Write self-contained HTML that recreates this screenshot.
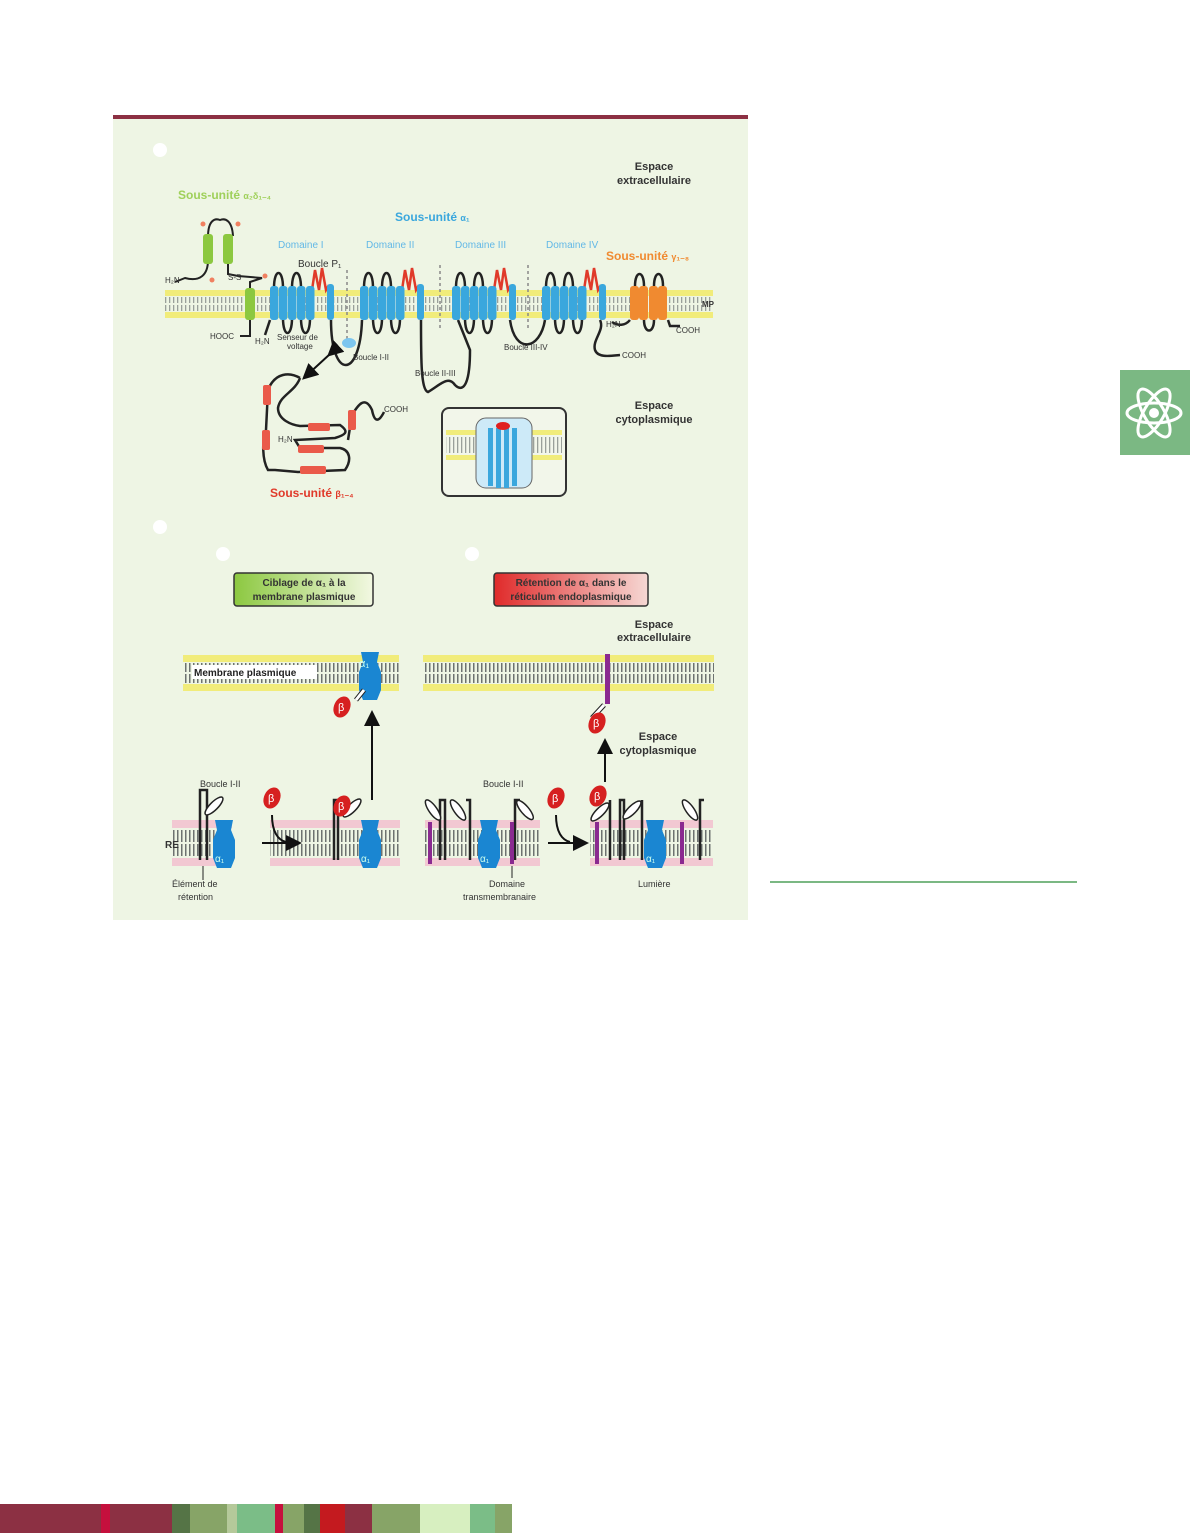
<!DOCTYPE html>
<html><head><meta charset="utf-8"><style>
html,body{margin:0;padding:0;background:#fff;}
body{width:1190px;height:1533px;position:relative;overflow:hidden;font-family:"Liberation Sans",sans-serif;}
.strip{position:absolute;top:1504px;height:29px;}
</style></head><body>
<svg width="1190" height="1533" style="position:absolute;left:0;top:0" xmlns="http://www.w3.org/2000/svg" font-family="Liberation Sans, sans-serif">
<defs>
<pattern id="vl" x="0" y="0" width="4" height="4" patternUnits="userSpaceOnUse"><rect x="1" y="0" width="1.3" height="4" fill="#9aa09a"/></pattern>
<pattern id="vd" x="0" y="0" width="4" height="4" patternUnits="userSpaceOnUse"><rect x="1" y="0" width="1.5" height="4" fill="#6d7270"/></pattern>
<g id="dom">
<g fill="none" stroke="#222" stroke-width="2.5">
<path d="M4 288 C4 268 13 268 13 288"/><path d="M22 288 C22 268 31 268 31 288"/>
<path d="M13 318 C13 338 22 338 22 318"/><path d="M31 318 C31 338 40 338 40 318"/>
</g>
<path d="M42 290 L45 270 L49 290 L52 268 L56 290 L59 285" fill="none" stroke="#e03a2a" stroke-width="2.5"/>
<g fill="#3aa7dd">
<rect x="0" y="286" width="8.5" height="34" rx="3"/><rect x="9" y="286" width="8.5" height="34" rx="3"/>
<rect x="18" y="286" width="8.5" height="34" rx="3"/><rect x="27" y="286" width="8.5" height="34" rx="3"/>
<rect x="36" y="286" width="8.5" height="34" rx="3"/><rect x="57" y="284" width="7" height="36" rx="3"/>
</g>
</g>
<g id="alpha"><path d="M-9 0 h18 l-2 10 l4 10 v18 l-4 10 h-14 l-4 -10 v-18 l4 -10 z" fill="#1a86d2"/></g>
<g id="beta"><ellipse cx="0" cy="0" rx="8" ry="11" fill="#d62020" transform="rotate(25)"/><text x="-4" y="4" font-size="11" fill="#fff">β</text></g>
<marker id="ar" markerWidth="8" markerHeight="8" refX="6" refY="4" orient="auto"><path d="M0 0 L8 4 L0 8 z" fill="#111"/></marker>
<linearGradient id="gg"><stop offset="0" stop-color="#8cc840"/><stop offset="1" stop-color="#f2f8e2"/></linearGradient>
<linearGradient id="rg"><stop offset="0" stop-color="#e02a2a"/><stop offset="1" stop-color="#f6d8d4"/></linearGradient>
</defs>

<rect x="113" y="115" width="635" height="805" fill="#eef5e4"/>
<rect x="113" y="115" width="635" height="4" fill="#8c3043"/>

<!-- icon -->
<rect x="1120" y="370" width="70" height="85" fill="#7bb883"/>
<g transform="translate(1154,413)" fill="none" stroke="#fff" stroke-width="3">
<ellipse rx="27" ry="10"/><ellipse rx="27" ry="10" transform="rotate(60)"/><ellipse rx="27" ry="10" transform="rotate(-60)"/>
<circle r="5" fill="#fff" stroke="none"/></g>
<rect x="770" y="881" width="307" height="2" fill="#7bb883"/>

<!-- panel A -->
<circle cx="160" cy="150" r="7" fill="#fff"/>
<text x="654" y="170" font-size="11" font-weight="bold" fill="#333" text-anchor="middle">Espace</text>
<text x="654" y="184" font-size="11" font-weight="bold" fill="#333" text-anchor="middle">extracellulaire</text>
<text x="178" y="199" font-size="12" font-weight="bold" fill="#9fd05a">Sous-unité <tspan font-size="9">α₂δ₁₋₄</tspan></text>
<text x="395" y="221" font-size="12" font-weight="bold" fill="#3aa7dd">Sous-unité <tspan font-size="9">α₁</tspan></text>
<g font-size="10" fill="#62b8e6"><text x="278" y="248">Domaine I</text><text x="366" y="248">Domaine II</text><text x="455" y="248">Domaine III</text><text x="546" y="248">Domaine IV</text></g>
<text x="606" y="260" font-size="12" font-weight="bold" fill="#f08a30">Sous-unité <tspan font-size="9">γ₁₋₈</tspan></text>
<text x="298" y="267" font-size="10" fill="#333">Boucle P₁</text>

<!-- membrane A -->
<rect x="165" y="290" width="548" height="6" fill="#f1ec7a"/>
<rect x="165" y="312" width="548" height="6" fill="#f1ec7a"/>
<rect x="165" y="297" width="548" height="6" fill="url(#vl)"/>
<rect x="165" y="305" width="548" height="6" fill="url(#vl)"/>
<text x="702" y="307" font-size="8" font-weight="bold" fill="#333">MP</text>
<g stroke="#888" stroke-width="1.5" stroke-dasharray="3 3"><line x1="347" y1="270" x2="347" y2="345"/><line x1="440" y1="265" x2="440" y2="330"/><line x1="528" y1="265" x2="528" y2="330"/></g>

<!-- alpha2delta -->
<g fill="none" stroke="#222" stroke-width="2">
<path d="M208 237 C208 220 215 218 220 220 C225 218 232 220 233 236"/>
<path d="M208 260 C208 275 200 282 185 278 L175 282"/>
<path d="M228 262 L228 274 L238 276 L262 278 L250 282 L250 292"/>
<path d="M250 318 L250 336 L240 336"/>
</g>
<rect x="203" y="234" width="10" height="30" rx="3" fill="#8cc840"/><rect x="223" y="234" width="10" height="30" rx="3" fill="#8cc840"/>
<rect x="245" y="288" width="10" height="32" rx="3" fill="#8cc840"/>
<g fill="#f08060"><circle cx="203" cy="224" r="2.5"/><circle cx="238" cy="224" r="2.5"/><circle cx="212" cy="280" r="2.5"/><circle cx="265" cy="276" r="2.5"/></g>
<g font-size="8" fill="#333"><text x="165" y="283">H₂N</text><text x="228" y="280">S-S</text><text x="210" y="339">HOOC</text><text x="255" y="344">H₂N</text><text x="277" y="340">Senseur de</text><text x="287" y="349">voltage</text></g>

<!-- alpha1 domains -->
<g fill="none" stroke="#222" stroke-width="2.5">
<path d="M270 320 L265 335"/>
<path d="M331 320 C331 380 360 380 362 320"/>
<path d="M421 320 C421 360 421 390 428 392 C440 385 448 375 455 385 C462 392 470 388 470 350 L458 320"/>
<path d="M510 320 C515 355 540 350 545 320"/>
<path d="M600 320 C605 330 592 340 595 350 C598 358 610 356 620 355"/>
<path d="M630 320 C625 326 618 326 612 322"/>
<path d="M668 320 L670 326 L680 326"/>
<path d="M635 286 C635 270 644 270 644 286"/><path d="M654 286 C654 270 663 270 663 286"/>
<path d="M644 320 C644 334 654 334 654 320"/>
</g>
<use href="#dom" x="270"/><use href="#dom" x="360"/><use href="#dom" x="452"/><use href="#dom" x="542"/>
<g fill="#f08a30"><rect x="630" y="286" width="9" height="34" rx="3"/><rect x="639" y="286" width="9" height="34" rx="3"/><rect x="649" y="286" width="9" height="34" rx="3"/><rect x="658" y="286" width="9" height="34" rx="3"/></g>
<ellipse cx="349" cy="343" rx="7" ry="5" fill="#7dc6ef"/>
<g font-size="8" fill="#333"><text x="353" y="360">Boucle I-II</text><text x="415" y="376">Boucle II-III</text><text x="504" y="350">Boucle III-IV</text><text x="606" y="327">H₂N</text><text x="676" y="333">COOH</text><text x="622" y="358">COOH</text></g>

<!-- beta -->
<line x1="330" y1="354" x2="305" y2="377" stroke="#111" stroke-width="2" marker-end="url(#ar)" marker-start="url(#ar)"/>
<g fill="none" stroke="#222" stroke-width="2.5">
<path d="M300 378 C290 372 275 372 268 390 L266 430 C262 440 262 460 268 470 L275 470 L298 472 L345 470 C352 460 350 450 340 448 L300 448 L295 440 L335 438 C345 435 350 432 340 425 L300 426 C292 425 278 420 278 408 C280 395 295 392 300 378"/>
<path d="M348 440 L352 415 C358 405 365 395 372 410 C375 425 380 420 384 412"/>
</g>
<g fill="#ea5a4a"><rect x="263" y="385" width="8" height="20" rx="2"/><rect x="262" y="430" width="8" height="20" rx="2"/><rect x="348" y="410" width="8" height="20" rx="2"/>
<rect x="308" y="423" width="22" height="8" rx="2"/><rect x="298" y="445" width="26" height="8" rx="2"/><rect x="300" y="466" width="26" height="8" rx="2"/></g>
<text x="278" y="442" font-size="8" fill="#333">H₂N</text><text x="384" y="412" font-size="8" fill="#333">COOH</text>
<text x="270" y="497" font-size="12" font-weight="bold" fill="#e03a2a">Sous-unité <tspan font-size="9">β₁₋₄</tspan></text>
<text x="654" y="409" font-size="11" font-weight="bold" fill="#333" text-anchor="middle">Espace</text>
<text x="654" y="423" font-size="11" font-weight="bold" fill="#333" text-anchor="middle">cytoplasmique</text>
<rect x="442" y="408" width="124" height="88" rx="7" fill="#f2f6ea" stroke="#333" stroke-width="2"/>
<rect x="446" y="430" width="116" height="5" fill="#f1ec7a"/><rect x="446" y="455" width="116" height="5" fill="#f1ec7a"/>
<rect x="446" y="437" width="116" height="16" fill="url(#vl)"/>
<rect x="476" y="418" width="56" height="70" rx="10" fill="#cdeaf8" stroke="#666"/>
<g fill="#3aa7dd"><rect x="488" y="428" width="5" height="58"/><rect x="496" y="428" width="5" height="60"/><rect x="504" y="428" width="5" height="60"/><rect x="512" y="428" width="5" height="58"/></g>
<ellipse cx="503" cy="426" rx="7" ry="4" fill="#e02020"/>

<!-- panel B -->
<circle cx="160" cy="527" r="7" fill="#fff"/>
<circle cx="223" cy="554" r="7" fill="#fff"/><circle cx="472" cy="554" r="7" fill="#fff"/>
<rect x="234" y="573" width="139" height="33" rx="3" fill="url(#gg)" stroke="#333" stroke-width="1.5"/>
<text x="304" y="586" font-size="10" font-weight="bold" fill="#333" text-anchor="middle">Ciblage de α₁ à la</text>
<text x="304" y="600" font-size="10" font-weight="bold" fill="#333" text-anchor="middle">membrane plasmique</text>
<rect x="494" y="573" width="154" height="33" rx="3" fill="url(#rg)" stroke="#333" stroke-width="1.5"/>
<text x="571" y="586" font-size="10" font-weight="bold" fill="#333" text-anchor="middle">Rétention de α₁ dans le</text>
<text x="571" y="600" font-size="10" font-weight="bold" fill="#333" text-anchor="middle">réticulum endoplasmique</text>
<text x="654" y="628" font-size="11" font-weight="bold" fill="#333" text-anchor="middle">Espace</text>
<text x="654" y="641" font-size="11" font-weight="bold" fill="#333" text-anchor="middle">extracellulaire</text>

<!-- plasma membranes -->
<g>
<rect x="183" y="655" width="216" height="7" fill="#f1ec7a"/><rect x="183" y="684" width="216" height="7" fill="#f1ec7a"/>
<rect x="183" y="663" width="216" height="9" fill="url(#vd)"/><rect x="183" y="674" width="216" height="9" fill="url(#vd)"/>
<rect x="423" y="655" width="291" height="7" fill="#f1ec7a"/><rect x="423" y="684" width="291" height="7" fill="#f1ec7a"/>
<rect x="423" y="663" width="291" height="9" fill="url(#vd)"/><rect x="423" y="674" width="291" height="9" fill="url(#vd)"/>
</g>
<rect x="192" y="665" width="125" height="14" fill="#fff"/>
<text x="194" y="676" font-size="10" font-weight="bold" fill="#222">Membrane plasmique</text>
<use href="#alpha" x="370" y="652"/>
<text x="359" y="667" font-size="11" fill="#cfe">α₁</text>
<path d="M356 700 L364 690" stroke="#222" stroke-width="5"/><path d="M356 700 L364 690" stroke="#fff" stroke-width="3"/>
<use href="#beta" x="342" y="707"/>
<line x1="372" y1="800" x2="372" y2="714" stroke="#111" stroke-width="2" marker-end="url(#ar)"/>
<rect x="605" y="654" width="5" height="50" fill="#8a2a90"/>
<path d="M604 705 L592 718" stroke="#222" stroke-width="5"/><path d="M604 705 L592 718" stroke="#fff" stroke-width="3"/>
<use href="#beta" x="597" y="723"/>
<line x1="605" y1="782" x2="605" y2="742" stroke="#111" stroke-width="2" marker-end="url(#ar)"/>
<text x="658" y="740" font-size="11" font-weight="bold" fill="#333" text-anchor="middle">Espace</text>
<text x="658" y="754" font-size="11" font-weight="bold" fill="#333" text-anchor="middle">cytoplasmique</text>

<!-- ER membranes -->
<g>
<rect x="172" y="820" width="60" height="8" fill="#f2c8d2"/><rect x="172" y="858" width="60" height="8" fill="#f2c8d2"/>
<rect x="172" y="830" width="60" height="12" fill="url(#vd)"/><rect x="172" y="844" width="60" height="12" fill="url(#vd)"/>
<rect x="270" y="820" width="130" height="8" fill="#f2c8d2"/><rect x="270" y="858" width="130" height="8" fill="#f2c8d2"/>
<rect x="270" y="830" width="130" height="12" fill="url(#vd)"/><rect x="270" y="844" width="130" height="12" fill="url(#vd)"/>
<rect x="425" y="820" width="115" height="8" fill="#f2c8d2"/><rect x="425" y="858" width="115" height="8" fill="#f2c8d2"/>
<rect x="425" y="830" width="115" height="12" fill="url(#vd)"/><rect x="425" y="844" width="115" height="12" fill="url(#vd)"/>
<rect x="590" y="820" width="123" height="8" fill="#f2c8d2"/><rect x="590" y="858" width="123" height="8" fill="#f2c8d2"/>
<rect x="590" y="830" width="123" height="12" fill="url(#vd)"/><rect x="590" y="844" width="123" height="12" fill="url(#vd)"/>
</g>
<text x="165" y="848" font-size="10" font-weight="bold" fill="#333">RE</text>
<g stroke="#222" stroke-width="2.5" fill="none">
<path d="M200 860 L200 790 L207 790 L207 860"/>
<path d="M334 860 L334 800 L338 800 L338 860"/>
<path d="M440 860 L440 800 L445 800 L445 860 M470 860 L470 800 L466 800"/>
<path d="M515 860 L515 800 L520 800"/>
<path d="M610 860 L610 800 M620 860 L620 800 L624 800 L624 860 M700 860 L700 800 L704 800"/>
<path d="M642 860 L642 800"/>
</g>
<g fill="#fff" stroke="#222" stroke-width="1.5">
<ellipse cx="214" cy="806" rx="4" ry="12" transform="rotate(45 214 806)"/>
<ellipse cx="352" cy="808" rx="4" ry="12" transform="rotate(45 352 808)"/>
<ellipse cx="433" cy="810" rx="4" ry="12" transform="rotate(-35 433 810)"/>
<ellipse cx="458" cy="810" rx="4" ry="12" transform="rotate(-35 458 810)"/>
<ellipse cx="525" cy="810" rx="4" ry="12" transform="rotate(-40 525 810)"/>
<ellipse cx="600" cy="812" rx="4" ry="12" transform="rotate(45 600 812)"/>
<ellipse cx="632" cy="810" rx="4" ry="12" transform="rotate(45 632 810)"/>
<ellipse cx="690" cy="810" rx="4" ry="12" transform="rotate(-35 690 810)"/>
</g>
<g fill="#8a2a90"><rect x="428" y="822" width="4" height="42"/><rect x="510" y="822" width="4" height="42"/><rect x="595" y="822" width="4" height="42"/><rect x="680" y="822" width="4" height="42"/></g>
<use href="#alpha" x="224" y="820"/><use href="#alpha" x="370" y="820"/><use href="#alpha" x="489" y="820"/><use href="#alpha" x="655" y="820"/>
<g font-size="10" fill="#cfe"><text x="215" y="862">α₁</text><text x="361" y="862">α₁</text><text x="480" y="862">α₁</text><text x="646" y="862">α₁</text></g>
<use href="#beta" x="272" y="798"/><use href="#beta" x="342" y="806"/><use href="#beta" x="556" y="798"/><use href="#beta" x="598" y="796"/>
<path d="M272 815 C272 832 278 840 286 842" fill="none" stroke="#111" stroke-width="2"/>
<line x1="262" y1="843" x2="298" y2="843" stroke="#111" stroke-width="2" marker-end="url(#ar)"/>
<path d="M556 815 C556 832 562 840 570 842" fill="none" stroke="#111" stroke-width="2"/>
<line x1="548" y1="843" x2="585" y2="843" stroke="#111" stroke-width="2" marker-end="url(#ar)"/>
<g font-size="9" fill="#333">
<text x="200" y="787">Boucle I-II</text><text x="483" y="787">Boucle I-II</text>
<text x="172" y="887">Élément de</text><text x="178" y="900">rétention</text>
<text x="489" y="887">Domaine</text><text x="463" y="900">transmembranaire</text>
<text x="638" y="887">Lumière</text></g>
<line x1="203" y1="880" x2="203" y2="866" stroke="#222" stroke-width="1"/>
<line x1="512" y1="878" x2="512" y2="866" stroke="#222" stroke-width="1"/>
</svg>
<div class="strip" style="left:0;width:101px;background:#8c3043"></div>
<div class="strip" style="left:101px;width:9px;background:#c5103d"></div>
<div class="strip" style="left:110px;width:62px;background:#8c3043"></div>
<div class="strip" style="left:172px;width:18px;background:#557446"></div>
<div class="strip" style="left:190px;width:37px;background:#87a467"></div>
<div class="strip" style="left:227px;width:10px;background:#b5c99a"></div>
<div class="strip" style="left:237px;width:38px;background:#7bbd87"></div>
<div class="strip" style="left:275px;width:8px;background:#c5103d"></div>
<div class="strip" style="left:283px;width:21px;background:#87a467"></div>
<div class="strip" style="left:304px;width:16px;background:#557446"></div>
<div class="strip" style="left:320px;width:25px;background:#c41a1f"></div>
<div class="strip" style="left:345px;width:27px;background:#8c3043"></div>
<div class="strip" style="left:372px;width:48px;background:#87a467"></div>
<div class="strip" style="left:420px;width:50px;background:#d7efc0"></div>
<div class="strip" style="left:470px;width:25px;background:#7bbd87"></div>
<div class="strip" style="left:495px;width:17px;background:#87a467"></div>
</body></html>
